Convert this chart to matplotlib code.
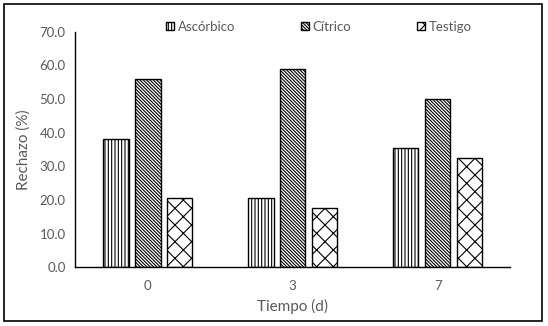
import matplotlib
matplotlib.use("Agg")
import matplotlib.pyplot as plt
from matplotlib.patches import Rectangle
import numpy as np

# data
dias = ["0", "3", "7"]
ascorbico = [38.1, 20.5, 35.4]
citrico = [56.0, 59.0, 50.0]
testigo = [20.5, 17.5, 32.4]
series = ["Ascórbico", "Cítrico", "Testigo"]

gris = "#595959"
plt.rcParams["font.family"] = ["Lato", "DejaVu Sans"]
plt.rcParams["hatch.linewidth"] = 0.8

fig = plt.figure(figsize=(5.48, 3.26), dpi=100)
ax = fig.add_axes([0.1374, 0.180, 0.7933, 0.7228])

x = np.arange(len(dias))
w = 0.176
paso = 0.22
hatches = ["|||||", "\\" * 10, "xx"]
for i, (nombre, vals) in enumerate(zip(series, [ascorbico, citrico, testigo])):
    ax.bar(x + (i - 1) * paso, vals, w, facecolor="white", edgecolor="black",
           linewidth=1.0, hatch=hatches[i], label=nombre)

ax.set_xlim(-0.5, 2.5)
ax.set_ylim(0, 70)
ax.set_yticks(np.arange(0, 71, 10))
ax.set_yticklabels([f"{v:.1f}" for v in np.arange(0, 71, 10)])
ax.set_xticks(x)
ax.set_xticklabels(dias)
ax.tick_params(length=0, labelsize=9.5, labelcolor=gris)
ax.tick_params(axis="y", pad=7)
ax.tick_params(axis="x", pad=9)
for s in ["top", "right"]:
    ax.spines[s].set_visible(False)
ax.spines["left"].set_color("black")
ax.spines["bottom"].set_color("black")
ax.spines["left"].set_linewidth(1.0)
ax.spines["bottom"].set_linewidth(1.0)

ax.set_xlabel("Tiempo (d)", fontsize=11, color=gris, labelpad=5)
ax.set_ylabel("Rechazo (%)", fontsize=11, color=gris, labelpad=6)

leg = fig.legend(loc="center", bbox_to_anchor=(0.582, 0.918), ncol=3,
                 frameon=False, fontsize=9.5, handlelength=0.6, handleheight=0.6,
                 handletextpad=0.3, columnspacing=5.0)
for t in leg.get_texts():
    t.set_color(gris)

# outer frame
fig.patches.append(Rectangle((4.3 / 548, 1 - 320.7 / 326), 537.4 / 548, 316.4 / 326,
                             transform=fig.transFigure, fill=False,
                             edgecolor="black", linewidth=1.2))

fig.savefig("out.png", dpi=100)
